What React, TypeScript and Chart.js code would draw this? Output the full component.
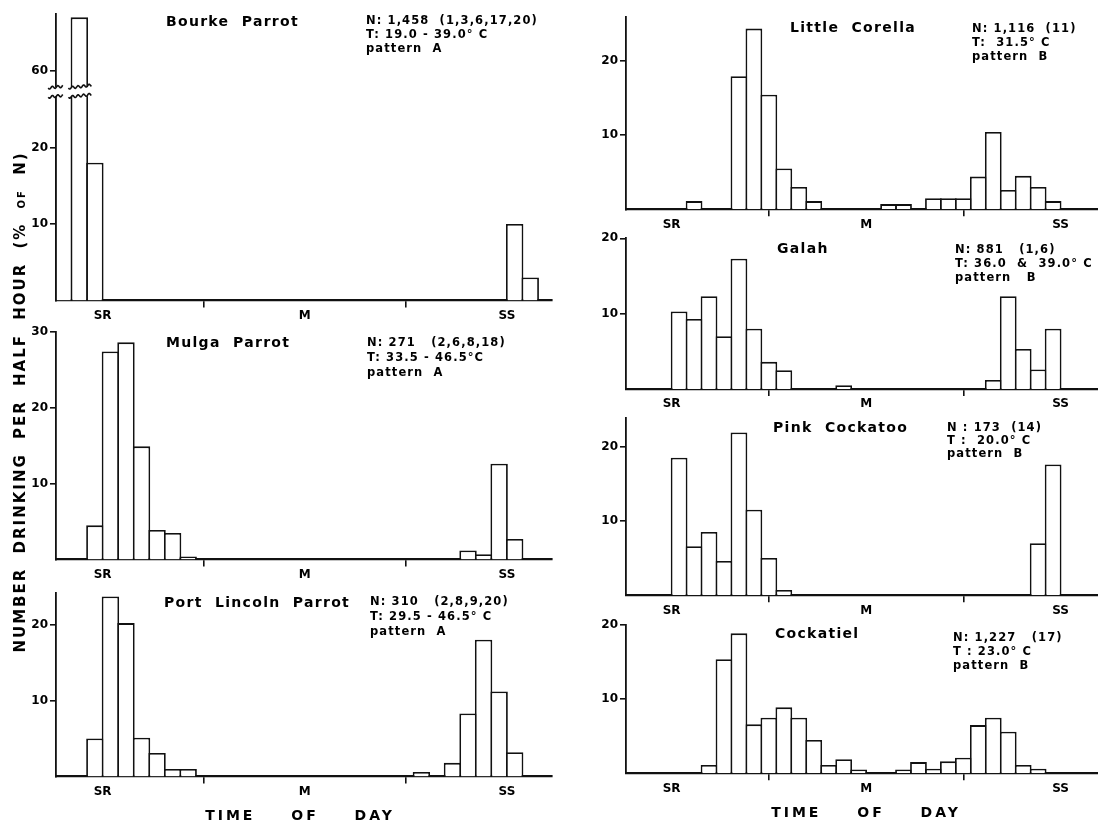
import React, { useEffect, useRef } from "react";
import { Chart, registerables } from "chart.js";
Chart.register(...registerables);

// ---------- data ----------
const xTickValues = [0, 13, 26];
const xTickLabels = ["SR", "M", "SS"];

const bourkeMorningStart = -3;
const bourkeMorning = [27.5, 67, 18];
const bourkeEveningStart = 26;
const bourkeEvening = [10, 3];
const bourkeTicks = [10, 20, 60];

const mulgaMorningStart = -1;
const mulgaMorning = [4.5, 27.4, 28.6, 14.9, 3.9, 3.5, 0.4];
const mulgaEveningStart = 23;
const mulgaEvening = [1.2, 0.7, 12.6, 2.7];
const mulgaTicks = [10, 20, 30];

const lincolnMorningStart = -1;
const lincolnMorning = [5.0, 23.7, 20.2, 5.1, 3.1, 1.0, 1.0];
const lincolnEveningStart = 20;
const lincolnEvening = [0.6, 0, 1.8, 8.3, 18.0, 11.2, 3.2];
const lincolnTicks = [10, 20];

const corellaMorningStart = 1;
const corellaMorning = [1.1, 0, 0, 17.9, 24.3, 15.4, 5.5, 3.0, 1.1];
const corellaAfternoonStart = 14;
const corellaAfternoon = [0.7, 0.7, 0, 1.5, 1.5, 1.5, 4.4, 10.4, 2.6, 4.5, 3.0, 1.1];
const corellaTicks = [10, 20];

const galahMorningStart = 0;
const galahMorning = [10.3, 9.3, 12.3, 7.0, 17.3, 8.0, 3.6, 2.5, 0, 0, 0, 0.5];
const galahEveningStart = 21;
const galahEvening = [1.2, 12.3, 5.3, 2.6, 8.0];
const galahTicks = [10, 20];

const pinkMorningStart = 0;
const pinkMorning = [18.5, 6.6, 8.5, 4.6, 21.9, 11.5, 5.0, 0.7];
const pinkEveningStart = 24;
const pinkEvening = [7.0, 17.6];
const pinkTicks = [10, 20];

const cockatielMorningStart = 2;
const cockatielMorning = [1.1, 15.4, 18.9, 6.6, 7.5, 8.9, 7.5, 4.5, 1.1, 1.9, 0.5];
const cockatielAfternoonStart = 15;
const cockatielAfternoon = [0.5, 1.5, 0.6, 1.6, 2.1, 6.5, 7.5, 5.6, 1.1, 0.6];
const cockatielTicks = [10, 20];

const speciesNames = ["Bourke  Parrot", "Mulga  Parrot", "Port  Lincoln  Parrot", "Little  Corella", "Galah", "Pink  Cockatoo", "Cockatiel"];
const nLines = ["N: 1,458  (1,3,6,17,20)", "N: 271   (2,6,8,18)", "N: 310   (2,8,9,20)", "N: 1,116  (11)", "N: 881   (1,6)", "N : 173  (14)", "N: 1,227   (17)"];
const tLines = ["T: 19.0 - 39.0° C", "T: 33.5 - 46.5°C", "T: 29.5 - 46.5° C", "T:  31.5° C", "T: 36.0  &  39.0° C", "T :  20.0° C", "T : 23.0° C"];
const patternLines = ["pattern  A", "pattern  A", "pattern  A", "pattern  B", "pattern   B", "pattern  B", "pattern  B"];

// ---------- layout ----------
const FONT = "'DejaVu Sans', Lato, sans-serif";
const LEFT = { plotLeft: 56, plotRight: 552, xMin: -3, xMax: 28.9 };
const RIGHT = { plotLeft: 626, plotRight: 1098, xMin: -3.05, xMax: 28.5 };

type Seg = { start: number; values: number[] };
type PanelProps = {
  col: { plotLeft: number; plotRight: number; xMin: number; xMax: number };
  top: number;
  bottom: number;
  yMax: number;
  segs: Seg[];
  ticks: number[];
  toDisplay?: (v: number) => number;
  brk?: { lo: number; hi: number; spans: [number, number][] };
};

const identity = (v: number) => v;

function Panel({ col, top, bottom, yMax, segs, ticks, toDisplay = identity, brk }: PanelProps) {
  const ref = useRef<HTMLCanvasElement>(null);
  const canvasLeft = Math.floor(col.plotLeft) - 44;
  const canvasTop = Math.floor(top) - 9;
  const width = Math.ceil(col.plotRight + 6 - canvasLeft);
  const height = Math.ceil(bottom + 30 - canvasTop);
  const yAxisW = col.plotLeft - canvasLeft;
  const padTop = top - canvasTop;
  const padRight = width - (col.plotRight - canvasLeft);
  const xAxisH = height - (bottom - canvasTop);

  useEffect(() => {
    const pts: { x: number; y: number }[] = [];
    segs.forEach((s) =>
      s.values.forEach((v, i) => {
        if (v > 0) pts.push({ x: s.start + i + 0.5, y: toDisplay(v) });
      })
    );
    const tickDisplay = ticks.map(toDisplay);
    const plugins: any[] = [];
    if (brk) {
      plugins.push({
        id: "axisBreak",
        afterDatasetsDraw(chart: any) {
          const { ctx, scales } = chart;
          const x = scales.x;
          const y = scales.y;
          const y1 = y.getPixelForValue(brk.hi);
          const y2 = y.getPixelForValue(brk.lo);
          const xa = x.getPixelForValue(brk.spans[0][0]);
          const xb = x.getPixelForValue(brk.spans[brk.spans.length - 1][1]);
          ctx.save();
          ctx.fillStyle = "#fff";
          ctx.fillRect(xa, y1, xb - xa, y2 - y1);
          ctx.strokeStyle = "#111";
          ctx.lineWidth = 1.6;
          brk.spans.forEach(([a, b]) => {
            const pa = x.getPixelForValue(a);
            const pb = x.getPixelForValue(b);
            [y1, y2].forEach((yy) => {
              ctx.beginPath();
              for (let px = pa; px <= pb; px += 0.5) {
                const t = px - pa;
                const py = yy + 1.2 * Math.sin((2 * Math.PI * t) / 5.5) - t * 0.12 + 1;
                if (px === pa) ctx.moveTo(px, py);
                else ctx.lineTo(px, py);
              }
              ctx.stroke();
            });
          });
          ctx.restore();
        },
      });
    }
    const chart = new Chart(ref.current as HTMLCanvasElement, {
      type: "bar",
      data: {
        datasets: [
          {
            data: pts as any,
            backgroundColor: "#ffffff",
            borderColor: "#111111",
            borderWidth: 1.8,
            barPercentage: 1.12,
            categoryPercentage: 1,
          },
        ],
      },
      options: {
        animation: false,
        responsive: false,
        maintainAspectRatio: false,
        devicePixelRatio: 1,
        layout: { padding: { top: padTop, right: padRight, left: 0, bottom: 0 } },
        plugins: { legend: { display: false }, tooltip: { enabled: false }, title: { display: false } },
        scales: {
          x: {
            type: "linear",
            min: col.xMin,
            max: col.xMax,
            offset: false,
            afterBuildTicks: (ax: any) => {
              ax.ticks = xTickValues.map((v) => ({ value: v }));
            },
            afterFit: (s: any) => {
              s.height = xAxisH;
            },
            ticks: {
              autoSkip: false,
              maxRotation: 0,
              padding: 1,
              color: "#000",
              font: { family: FONT, size: 12, weight: "bold" },
              callback: (_v: any, i: number) => xTickLabels[i],
            },
            grid: { drawOnChartArea: false, drawTicks: true, tickLength: 7, color: "#111", lineWidth: 1.6 },
            border: { display: true, color: "#111", width: 2.2 },
          },
          y: {
            type: "linear",
            min: 0,
            max: yMax,
            afterBuildTicks: (ax: any) => {
              ax.ticks = tickDisplay.map((v) => ({ value: v }));
            },
            afterFit: (s: any) => {
              s.width = yAxisW;
            },
            ticks: {
              padding: 2,
              color: "#000",
              font: { family: FONT, size: 12, weight: "bold" },
              callback: (_v: any, i: number) => String(ticks[i]),
            },
            grid: { drawOnChartArea: false, drawTicks: true, tickLength: 6, color: "#111", lineWidth: 1.6 },
            border: { display: true, color: "#111", width: 1.8 },
          },
        },
      } as any,
      plugins,
    });
    return () => chart.destroy();
  }, []);

  return (
    <canvas
      ref={ref}
      width={width}
      height={height}
      style={{ position: "absolute", left: canvasLeft, top: canvasTop, width, height }}
    />
  );
}

function Txt({ x, cy, size, children, spacing = 1, word = 0 }: any) {
  return (
    <div
      style={{
        position: "absolute",
        left: x,
        top: cy - size / 2,
        fontFamily: FONT,
        fontWeight: 700,
        fontSize: size,
        lineHeight: `${size}px`,
        letterSpacing: spacing,
        wordSpacing: word,
        whiteSpace: "pre",
        color: "#000",
      }}
    >
      {children}
    </div>
  );
}

const bourkeDisplay = (v: number) => (v > 40 ? v - 30 : v);

export default function App() {
  const titles = [
    { x: 166, cy: 21 },
    { x: 166, cy: 342 },
    { x: 164, cy: 602 },
    { x: 790, cy: 27 },
    { x: 777, cy: 248 },
    { x: 773, cy: 427 },
    { x: 775, cy: 633 },
  ];
  const infos = [
    { x: 366, cy: 21, dy: 14 },
    { x: 367, cy: 343, dy: 15 },
    { x: 370, cy: 602, dy: 15 },
    { x: 972, cy: 29, dy: 14 },
    { x: 955, cy: 250, dy: 14 },
    { x: 947, cy: 428, dy: 13 },
    { x: 953, cy: 638, dy: 14 },
  ];
  const axisTitle = {
    fontFamily: FONT,
    fontWeight: 700,
    fontSize: 14,
    lineHeight: "16px",
    letterSpacing: 3,
    wordSpacing: 28,
    whiteSpace: "pre" as const,
    textAlign: "center" as const,
    position: "absolute" as const,
    width: 300,
  };
  return (
    <div style={{ position: "absolute", left: 0, top: 0, width: 1098, height: 821, background: "#fff", overflow: "hidden" }}>
      <Panel
        col={LEFT}
        top={13.5}
        bottom={300.5}
        yMax={37.5}
        segs={[
          { start: bourkeMorningStart, values: bourkeMorning },
          { start: bourkeEveningStart, values: bourkeEvening },
        ]}
        ticks={bourkeTicks}
        toDisplay={bourkeDisplay}
        brk={{ lo: 26.7, hi: 27.9, spans: [[-3.5, -2.55], [-2.2, -0.7]] }}
      />
      <Panel
        col={LEFT}
        top={331.7}
        bottom={559.5}
        yMax={30}
        segs={[
          { start: mulgaMorningStart, values: mulgaMorning },
          { start: mulgaEveningStart, values: mulgaEvening },
        ]}
        ticks={mulgaTicks}
      />
      <Panel
        col={LEFT}
        top={592.7}
        bottom={776.5}
        yMax={24.2}
        segs={[
          { start: lincolnMorningStart, values: lincolnMorning },
          { start: lincolnEveningStart, values: lincolnEvening },
        ]}
        ticks={lincolnTicks}
      />
      <Panel
        col={RIGHT}
        top={16.7}
        bottom={209.3}
        yMax={25.9}
        segs={[
          { start: corellaMorningStart, values: corellaMorning },
          { start: corellaAfternoonStart, values: corellaAfternoon },
        ]}
        ticks={corellaTicks}
      />
      <Panel
        col={RIGHT}
        top={238.3}
        bottom={389}
        yMax={20}
        segs={[
          { start: galahMorningStart, values: galahMorning },
          { start: galahEveningStart, values: galahEvening },
        ]}
        ticks={galahTicks}
      />
      <Panel
        col={RIGHT}
        top={418.3}
        bottom={595.2}
        yMax={23.8}
        segs={[
          { start: pinkMorningStart, values: pinkMorning },
          { start: pinkEveningStart, values: pinkEvening },
        ]}
        ticks={pinkTicks}
      />
      <Panel
        col={RIGHT}
        top={625}
        bottom={773.2}
        yMax={20}
        segs={[
          { start: cockatielMorningStart, values: cockatielMorning },
          { start: cockatielAfternoonStart, values: cockatielAfternoon },
        ]}
        ticks={cockatielTicks}
      />

      {speciesNames.map((n, i) => (
        <Txt key={"t" + i} x={titles[i].x} cy={titles[i].cy} size={14} spacing={1.3}>
          {n}
        </Txt>
      ))}
      {infos.map((p, i) => (
        <React.Fragment key={"i" + i}>
          <Txt x={p.x} cy={p.cy} size={11.5} spacing={1.1}>
            {nLines[i]}
          </Txt>
          <Txt x={p.x} cy={p.cy + p.dy} size={11.5} spacing={1.1}>
            {tLines[i]}
          </Txt>
          <Txt x={p.x} cy={p.cy + 2 * p.dy} size={11.5} spacing={1.1}>
            {patternLines[i]}
          </Txt>
        </React.Fragment>
      ))}

      <div
        style={{
          position: "absolute",
          left: 20 - 270,
          top: 402 - 9,
          width: 540,
          height: 18,
          textAlign: "center",
          transform: "rotate(-90deg)",
          transformOrigin: "50% 50%",
          fontFamily: FONT,
          fontWeight: 700,
          fontSize: 15,
          lineHeight: "18px",
          letterSpacing: 2,
          wordSpacing: 7,
          whiteSpace: "pre",
        }}
      >
        NUMBER DRINKING PER HALF HOUR (% <span style={{ fontSize: 10 }}>OF</span> N)
      </div>
      <div style={{ ...axisTitle, left: 300 - 150, top: 815 - 8 }}>TIME OF DAY</div>
      <div style={{ ...axisTitle, left: 866 - 150, top: 812 - 8 }}>TIME OF DAY</div>
    </div>
  );
}
